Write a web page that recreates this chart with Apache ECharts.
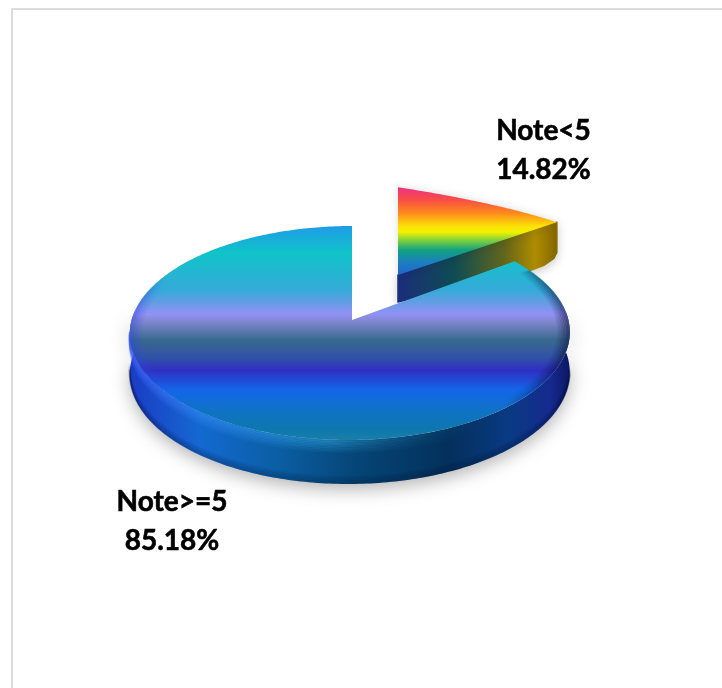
<!DOCTYPE html>
<html><head><meta charset="utf-8">
<style>html,body{margin:0;padding:0;background:#fff}#c{width:722px;height:688px}</style>
<script src="https://cdn.jsdelivr.net/npm/echarts@6/dist/echarts.min.js"></script>
</head><body><div id="c"></div>
<script>
// Data
const categories = ['Note<5', 'Note>=5'];
const shares = [14.82, 85.18];

// Layout: projection of each slice's disc onto the page
const projections = [
  {x: 398, y: 275, A: 198, B: 27.7, k: 0, lift: 60, shear: 0.15, tilt: 0, apexX: 398, apexY: 275},
  {x: 350, y: 320, A: 218.4, B: 105.4, k: 0.1215, lift: 0, shear: 0, tilt: 2, apexX: 352, apexY: 320}
];
const labelAnchors = [[543.5, 150.5], [172, 521.5]];
const cutCornerOffsets = [[0, 30], [-3, 36], [-13, 43], [-26, 48]];

// Styles
const vGrad = (y0, y1, stops) => ({type: 'linear', x: 0, y: y0, x2: 0, y2: y1, global: true,
  colorStops: stops.map(([y, color]) => ({offset: (y - y0) / (y1 - y0), color}))});
const hGrad = (x0, x1, stops) => ({type: 'linear', x: x0, y: 0, x2: x1, y2: 0, global: true,
  colorStops: stops.map(([x, color]) => ({offset: (x - x0) / (x1 - x0), color}))});
const topFills = [
  vGrad(187, 276, [[187,'#ee2f86'],[200,'#f94e45'],[213,'#fd8a1c'],[226,'#fbe006'],[232,'#f2f200'],[240,'#84d23c'],[250,'#12a27e'],[262,'#1b80c0'],[276,'#2260d2']]),
  vGrad(226, 440, [[226,'#1f9be9'],[253,'#0fc4c8'],[290,'#35aad9'],[304,'#6a9be6'],[314,'#9291f6'],[322,'#7f86cc'],[340,'#39698f'],[358,'#3151a8'],[370,'#2f2fc2'],[390,'#1466ea'],[410,'#0f72c6'],[430,'#0d78ae'],[440,'#1a80a8']])
];
const sideFill = hGrad(130, 570, [[130,'#1b3bc4'],[200,'#1469d2'],[280,'#0a5ea2'],[360,'#054474'],[450,'#03305c'],[510,'#0a3a84'],[550,'#152a8e'],[570,'#0e1664']]);
const cutFill = hGrad(398, 556, [[398,'#1a2e7c'],[455,'#0f4c52'],[505,'#63661a'],[535,'#b08c00'],[556,'#876a00']]);
const sideLight = hGrad(130, 570, [[130,'rgb(60,90,245)'],[200,'rgb(45,135,240)'],[330,'rgb(40,150,205)'],[440,'rgba(20,90,130,.3)'],[510,'rgba(10,40,100,0)'],[570,'rgba(5,10,60,0)']]);
const edgeShade = hGrad(130, 570, [[130,'rgba(40,70,220,.55)'],[165,'rgba(40,70,220,0)'],[505,'rgba(5,10,50,0)'],[570,'rgba(5,10,50,.6)']]);

function pt(th, p, dy) {
  const s = Math.sin(th), c = Math.cos(th), w = 1 + p.k * c, dx = p.A * s / w;
  return [p.x + dx + p.tilt * c, p.y - p.lift + p.shear * dx - p.B * c / w + (dy || 0)];
}
function arc(a, b, p, dy) {
  const out = [], n = Math.max(2, Math.ceil(Math.abs(b - a) * 60));
  for (let i = 0; i <= n; i++) out.push(pt(a + (b - a) * i / n, p, dy));
  return out;
}
const RAD = d => d * Math.PI / 180;
const depth = th => 40 + 4 * Math.max(0, -Math.cos(th));
function rimBelow(a, b, p, lift) {
  const out = [], n = Math.ceil((b - a) * 60);
  for (let i = 0; i <= n; i++) { const t = a + (b - a) * i / n; out.push(pt(t, p, depth(t) - (lift || 0))); }
  return out;
}

function renderItem(params, api) {
  const i = params.dataIndex, total = shares.reduce((a, b) => a + b, 0);
  const start = shares.slice(0, i).reduce((a, b) => a + b, 0) / total * 2 * Math.PI;
  const end = start + api.value(0) / total * 2 * Math.PI;
  const p = projections[i], apex = [p.apexX, p.apexY], kids = [];

  if (i === 0) {
    const tip = pt(end, p);
    const corner = cutCornerOffsets.map(([dx, dy]) => [tip[0] + dx, tip[1] + dy]);
    kids.push({type: 'polygon', shape: {points: [apex, tip, ...corner, [apex[0], apex[1] + 27]]},
      style: {fill: cutFill, stroke: cutFill, lineWidth: 1.5, lineJoin: 'round',
        shadowBlur: 10, shadowColor: 'rgba(0,0,0,.18)', shadowOffsetY: 3}});
  } else {
    const a = RAD(85), b = RAD(275);
    kids.push({type: 'polygon', shape: {points: arc(a, b, p).concat(rimBelow(a, b, p).reverse())},
      style: {fill: sideFill, shadowBlur: 18, shadowColor: 'rgba(0,0,0,.3)', shadowOffsetY: 5}});
    // soft dark falloff towards the lower rim of the side wall
    for (let j = 0; j < 5; j++) {
      kids.push({type: 'polyline', shape: {points: rimBelow(RAD(98), RAD(264), p, 1 + j * 1.6)},
        style: {fill: null, stroke: '#00102c', lineWidth: 2, opacity: 0.22 * (1 - j / 5)}});
    }
    // soft light falloff under the upper rim of the side wall
    for (let j = 0; j < 8; j++) {
      kids.push({type: 'polyline', shape: {points: arc(RAD(96), RAD(264), p, 1 + j * 1.6)},
        style: {fill: null, stroke: sideLight, lineWidth: 2, opacity: 0.6 * (1 - j / 8)}});
    }
  }

  const face = [apex].concat(arc(start, end, p));
  kids.push({type: 'polygon', shape: {points: face},
    style: {fill: topFills[i], shadowBlur: i === 1 ? 0 : 8, shadowColor: 'rgba(0,0,0,.13)'}});

  if (i === 1) {
    for (let j = 0; j < 8; j++) {
      kids.push({type: 'polyline', shape: {points: arc(RAD(60), RAD(300), {...p, A: p.A - 1 - j * 1.6, B: p.B - 0.5 - j * 0.8})},
        style: {fill: null, stroke: edgeShade, lineWidth: 2, opacity: 0.8 * (1 - j / 8)}});
    }
  }

  const [lx, ly] = labelAnchors[i];
  kids.push({type: 'text', style: {x: lx, y: ly, text: api.value(1) + '\n' + api.value(0).toFixed(2) + '%',
    align: 'center', verticalAlign: 'middle', fill: '#000', stroke: '#000', lineWidth: 0.6, lineHeight: 39,
    font: 'bold 28px Lato, "Open Sans", sans-serif'}});
  return {type: 'group', children: kids};
}

const chart = echarts.init(document.getElementById('c'), null, {renderer: 'canvas'});
chart.setOption({
  animation: false,
  backgroundColor: '#fff',
  graphic: [{type: 'rect', z: -10, silent: true, shape: {x: 12, y: 9, width: 760, height: 760},
    style: {fill: '#fff', stroke: '#dcdcdc', lineWidth: 2}}],
  series: [{
    type: 'custom', coordinateSystem: 'none', silent: true, z: 2,
    data: categories.map((name, i) => ({name, value: [shares[i], name]})),
    dimensions: [{name: 'share', type: 'number'}, {name: 'category', type: 'ordinal'}],
    renderItem
  }]
});
</script></body></html>
